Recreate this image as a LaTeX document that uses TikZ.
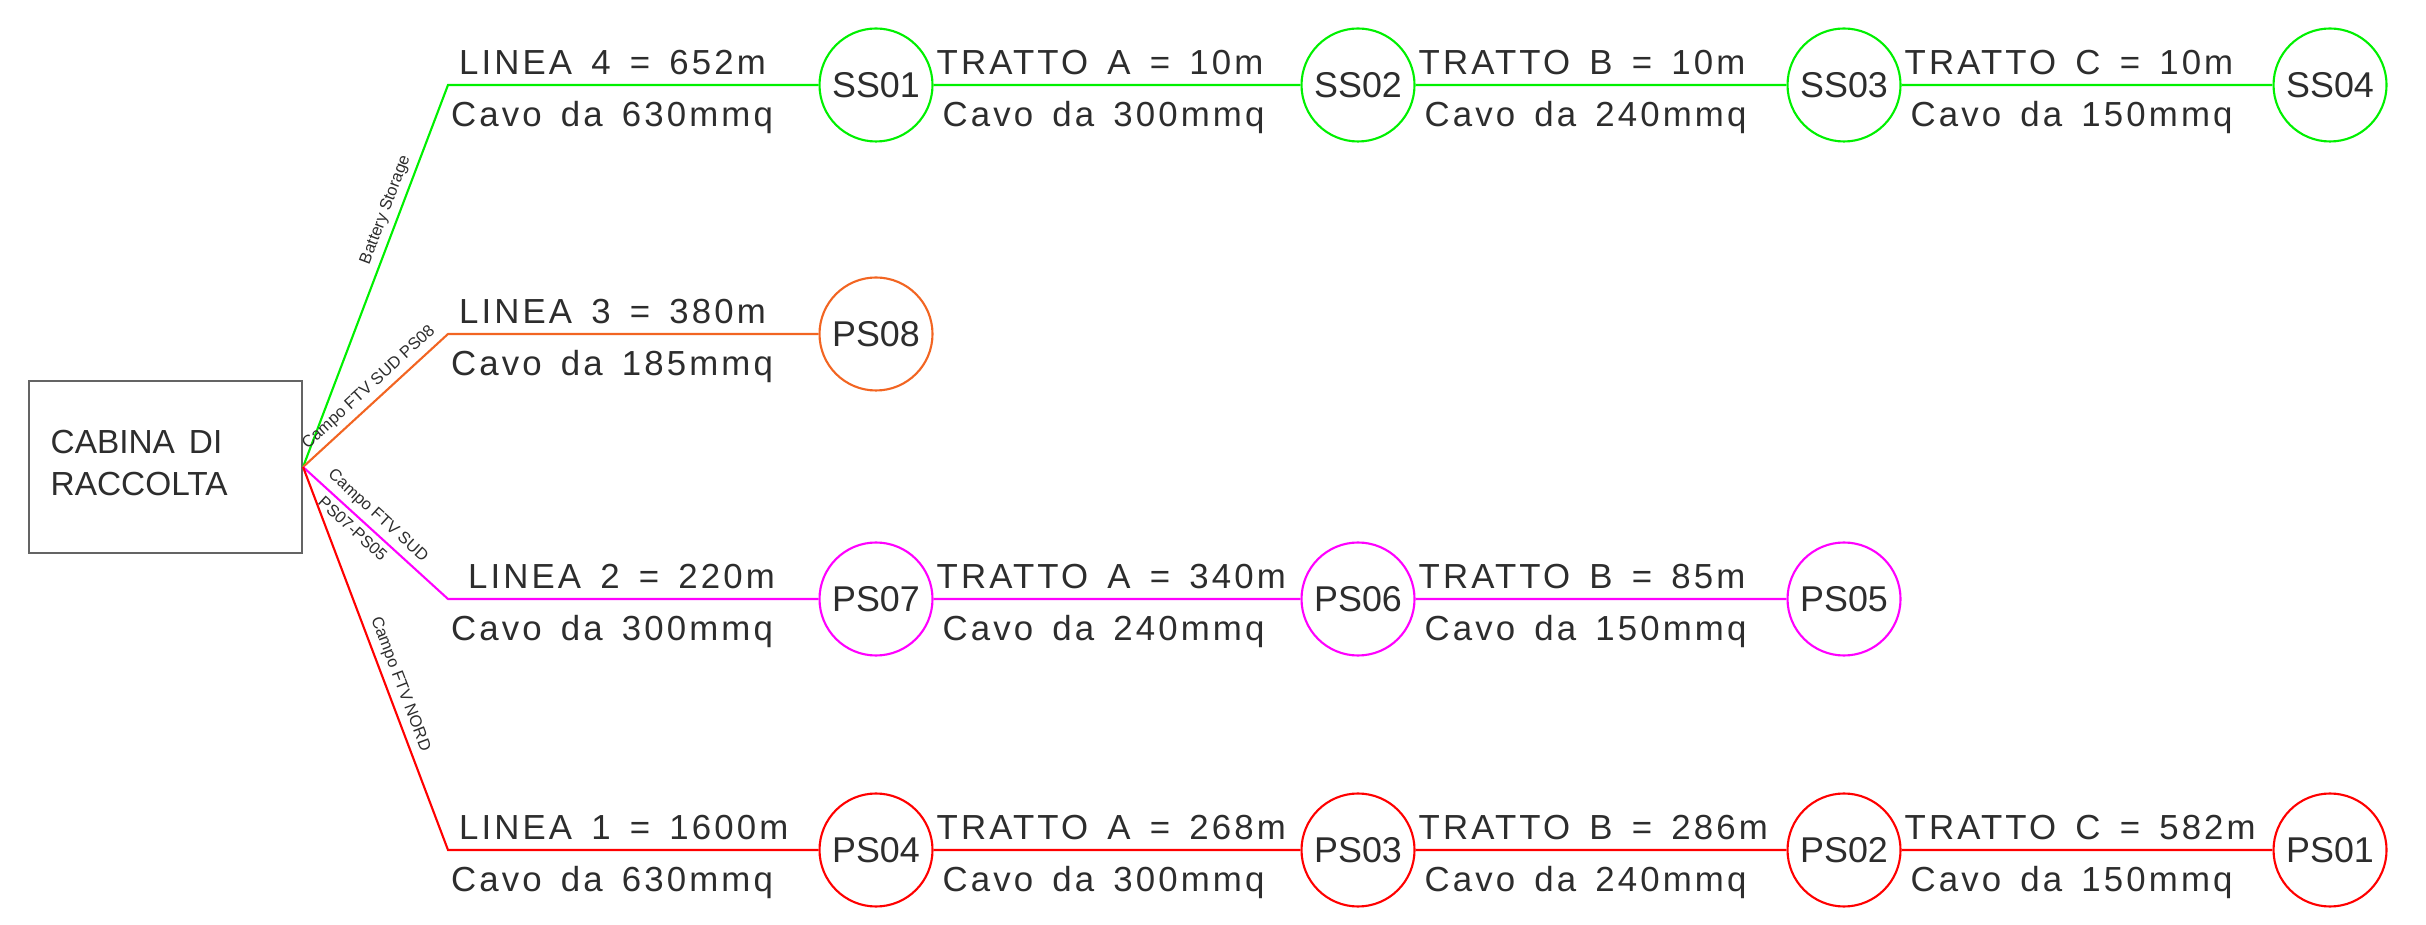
\documentclass[tikz,border=0pt]{standalone}
\usepackage{fontspec}
\setmainfont{Liberation Sans}
\newfontfamily\widefont{Liberation Sans}[LetterSpace=9,WordSpace=1.5]
\newfontfamily\boxfont{Liberation Sans}[WordSpace=1.5]
\usetikzlibrary{positioning}

\definecolor{linegreen}{RGB}{0,240,0}
\definecolor{lineorange}{RGB}{242,101,34}
\definecolor{linemagenta}{RGB}{255,0,255}
\definecolor{linered}{RGB}{255,0,0}
\definecolor{boxgray}{RGB}{100,100,100}
\definecolor{cadtext}{RGB}{45,45,45}

\tikzset{
  station/.style={circle, draw, line width=0.6pt, minimum size=1.13cm, inner sep=0pt,
    text=cadtext, font=\fontsize{10.2}{11}\selectfont},
  toptext/.style={anchor=base west, inner sep=0pt, text=cadtext, yshift=0.1cm, xshift=0.02cm,
    font=\widefont\fontsize{9.9}{11}\selectfont},
  bottext/.style={anchor=north west, inner sep=0pt, text=cadtext, yshift=-0.15cm, xshift=0.08cm,
    font=\widefont\fontsize{9.9}{11}\selectfont},
  feeder/.style={font=\fontsize{4.7}{5}\selectfont, text=cadtext, sloped, inner sep=1.5pt},
  cable/.style={line width=0.6pt}
}

\begin{document}
\begin{tikzpicture}
  \useasboundingbox (0,0) rectangle (24.26,9.24);

  % cabina
  \node[draw=boxgray, line width=0.6pt, minimum width=2.73cm, minimum height=1.72cm,
        inner sep=0pt] (cabina) at (1.655,4.57) {};
  \node[anchor=north west, inner sep=0pt, align=left, text=cadtext,
        font=\boxfont\fontsize{9.5}{12.2}\selectfont]
        (cabtxt) at (0.50,4.95) {CABINA DI\\RACCOLTA};

  % corners
  \coordinate (c4) at (4.48,8.39);
  \coordinate (c3) at (4.48,5.90);
  \coordinate (c2) at (4.48,3.25);
  \coordinate (c1) at (4.48,0.74);

  % linea 4
  \node[station, draw=linegreen] (ss01) at (8.76,8.39) {SS01};
  \node[station, draw=linegreen] (ss02) at (13.58,8.39) {SS02};
  \node[station, draw=linegreen] (ss03) at (18.44,8.39) {SS03};
  \node[station, draw=linegreen] (ss04) at (23.30,8.39) {SS04};
  \draw[cable, linegreen] (cabina.east) -- node[feeder, above, pos=0.66] (f4) {Battery Storage} (c4)
    -- node[toptext, pos=0, xshift=0.08cm] (l4a) {LINEA 4 = 652m}
       node[bottext, pos=0, xshift=-0.06cm] (l4b) {Cavo da 630mmq} (ss01)
    -- node[toptext, pos=0] (s4a) {TRATTO A = 10m} node[bottext, pos=0] (s4b) {Cavo da 300mmq} (ss02)
    -- node[toptext, pos=0] (s4c) {TRATTO B = 10m} node[bottext, pos=0] (s4d) {Cavo da 240mmq} (ss03)
    -- node[toptext, pos=0] (s4e) {TRATTO C = 10m} node[bottext, pos=0] (s4f) {Cavo da 150mmq} (ss04);

  % linea 3
  \node[station, draw=lineorange] (ps08) at (8.76,5.90) {PS08};
  \draw[cable, lineorange] (cabina.east) -- node[feeder, above, pos=0.52] (f3) {Campo FTV SUD PS08} (c3)
    -- node[toptext, pos=0, xshift=0.08cm] (l3a) {LINEA 3 = 380m}
       node[bottext, pos=0, xshift=-0.06cm] (l3b) {Cavo da 185mmq} (ps08);

  % linea 2
  \node[station, draw=linemagenta] (ps07) at (8.76,3.25) {PS07};
  \node[station, draw=linemagenta] (ps06) at (13.58,3.25) {PS06};
  \node[station, draw=linemagenta] (ps05) at (18.44,3.25) {PS05};
  \draw[cable, linemagenta] (cabina.east)
       -- node[feeder, above, pos=0.45] (f2a) {Campo FTV SUD}
          node[feeder, below, pos=0.40] (f2b) {PS07-PS05} (c2)
    -- node[toptext, pos=0, xshift=0.17cm] (l2a) {LINEA 2 = 220m}
       node[bottext, pos=0, xshift=-0.06cm] (l2b) {Cavo da 300mmq} (ps07)
    -- node[toptext, pos=0] (s2a) {TRATTO A = 340m} node[bottext, pos=0] (s2b) {Cavo da 240mmq} (ps06)
    -- node[toptext, pos=0] (s2c) {TRATTO B = 85m} node[bottext, pos=0] (s2d) {Cavo da 150mmq} (ps05);

  % linea 1
  \node[station, draw=linered] (ps04) at (8.76,0.74) {PS04};
  \node[station, draw=linered] (ps03) at (13.58,0.74) {PS03};
  \node[station, draw=linered] (ps02) at (18.44,0.74) {PS02};
  \node[station, draw=linered] (ps01) at (23.30,0.74) {PS01};
  \draw[cable, linered] (cabina.east) -- node[feeder, above, pos=0.58] (f1) {Campo FTV NORD} (c1)
    -- node[toptext, pos=0, xshift=0.08cm] (l1a) {LINEA 1 = 1600m}
       node[bottext, pos=0, xshift=-0.06cm] (l1b) {Cavo da 630mmq} (ps04)
    -- node[toptext, pos=0] (s1a) {TRATTO A = 268m} node[bottext, pos=0] (s1b) {Cavo da 300mmq} (ps03)
    -- node[toptext, pos=0] (s1c) {TRATTO B = 286m} node[bottext, pos=0] (s1d) {Cavo da 240mmq} (ps02)
    -- node[toptext, pos=0] (s1e) {TRATTO C = 582m} node[bottext, pos=0] (s1f) {Cavo da 150mmq} (ps01);
\end{tikzpicture}
\end{document}
